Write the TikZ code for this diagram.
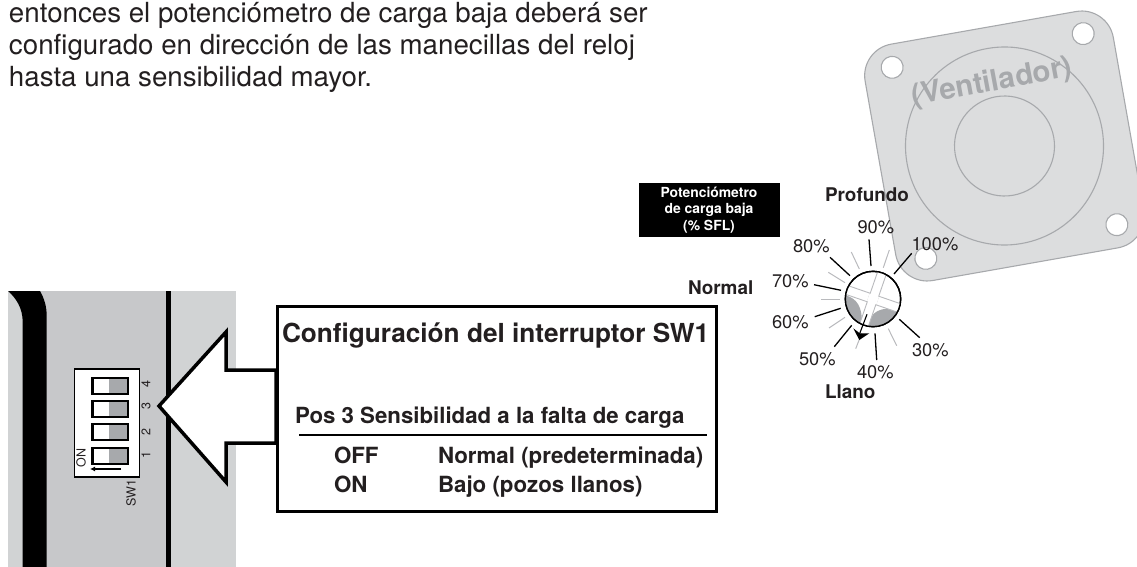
\documentclass[tikz,border=0pt]{standalone}
\usepackage{fontspec}
\usetikzlibrary{arrows.meta}
\setmainfont{TeX Gyre Heros}
\definecolor{panelL}{HTML}{D1D3D4}
\definecolor{panelD}{HTML}{C7C8CA}
\definecolor{plate}{HTML}{DCDDDE}
\definecolor{gr}{HTML}{A7A9AC}
\definecolor{ink}{HTML}{231F20}
\tikzset{
  txt/.style={anchor=base west,inner sep=0pt,outer sep=0pt,text=ink},
  body/.style={txt,font=\fontsize{27.7}{30}\selectfont},
  pct/.style={txt,font=\fontsize{18.3}{20}\selectfont},
  lab/.style={txt,font=\bfseries\fontsize{18.9}{20}\selectfont},
  tbl/.style={txt,font=\bfseries\fontsize{22.3}{24}\selectfont},
  tick/.style={draw=black,line width=1.3pt},
  soft/.style={draw=gr!80,line width=1pt},
  hole/.style={draw=gr,fill=white,line width=1.1pt},
  plateline/.style={draw=gr,line width=1.1pt},
  sw/.style={draw=black,line width=2.1pt},
  vtxt/.style={anchor=center,rotate=90,inner sep=0pt,text=ink,font=\fontsize{12.5}{13}\selectfont},
  wlab/.style={anchor=base,inner sep=0pt,text=white,font=\bfseries\fontsize{13.9}{14}\selectfont}
}
\begin{document}
\begin{tikzpicture}[x=1pt,y=-1pt,line join=miter]
\useasboundingbox (0,0) rectangle (1137,567);
\clip (0,0) rectangle (1137,567);
% body text
\node[body] (t1) at (9,23) {entonces el potenciómetro de carga baja deberá ser};
\node[body] (t2) at (9,55) {configurado en dirección de las manecillas del reloj};
\node[body] (t3) at (9,87) {hasta una sensibilidad mayor.};
% ventilator plate
\begin{scope}[shift={(1004.5,146)},rotate=10]
  \draw[plateline,fill=plate,rounded corners=32pt] (0,-120) -- (126,-120) -- (126,120) -- (-126,120) -- (-126,-120) -- cycle;
  \draw[plateline] (0,0) circle (99);
  \draw[plateline] (0,0) circle (50);
  \draw[hole] (-97,-97) circle (11);
  \draw[hole] (97,-97) circle (11);
  \draw[hole] (97,97) circle (11);
  \draw[hole] (-97,97) circle (11);
\end{scope}
\node[anchor=center,rotate=10.5,inner sep=0pt,text=gr,font=\bfseries\fontsize{29.5}{30}\selectfont] (vent) at (992,83) {(Ventilador)};
% panel
\fill[panelL] (8,291) rectangle (236,567);
\fill[panelD] (40,291) rectangle (166,567);
\fill[black] (8,291) .. controls (16,298) and (22.7,308) .. (22.7,322) -- (22.7,567) -- (46.7,567) -- (46.7,316) .. controls (46.7,306) and (44,298) .. (40,291) -- cycle;
\fill[black] (166,291) rectangle (171,567);
% DIP
\node[draw=black,fill=white,line width=1.6pt,minimum width=65pt,minimum height=108pt,inner sep=0pt,anchor=north west] (dip) at (73.5,368) {};
\foreach \y in {378,401,424,448}{
  \fill[gr] (109,\y) rectangle (128,\y+16);
  \draw[sw] (92.5,\y) rectangle (128,\y+16);
}
\node[vtxt] (n4) at (146,384) {4};
\node[vtxt] (n3) at (146,406) {3};
\node[vtxt] (n2) at (146,432) {2};
\node[vtxt] (n1) at (146,455) {1};
\node[vtxt] (on) at (81,458) {ON};
\node[vtxt] (swl) at (131,493) {SW1};
\coordinate (arrS) at (121,469);
\coordinate (arrE) at (90,469);
\draw[black,line width=1.5pt,-{Latex[length=5pt,width=5pt]}] (arrS) -- (arrE);
% big arrow
\draw[fill=white,draw=black,line width=3.5pt] (159,406) -- (226,332) -- (226,370) -- (276,370) -- (276,443) -- (226,443) -- (226,482) -- cycle;
% box
\node[draw=black,fill=white,line width=3pt,minimum width=439pt,minimum height=205pt,inner sep=0pt,anchor=north west] (box) at (276,305) {};
\node[txt,font=\bfseries\fontsize{26.2}{28}\selectfont] (title) at (282,342) {Configuración del interruptor SW1};
\node[txt,font=\bfseries\fontsize{22.25}{24}\selectfont] (pos) at (295,423) {Pos 3 Sensibilidad a la falta de carga};
\coordinate (ruleL) at (299,435);
\coordinate (ruleR) at (707,435);
\draw[black,line width=2.6pt] (ruleL) -- (ruleR);
\node[tbl] (off) at (334,463) {OFF};
\node[tbl] (onb) at (334,492) {ON};
\node[tbl] (nor) at (438,463) {Normal (predeterminada)};
\node[tbl] (baj) at (438,492) {Bajo (pozos llanos)};
% black label
\fill[black] (639,183) rectangle (780,237);
\node[wlab] (w1) at (709,197) {Potenciómetro};
\node[wlab] (w2) at (709,213.5) {de carga baja};
\node[wlab] (w3) at (709,230.5) {(\% SFL)};
% dial labels
\node[lab] (prof) at (825,201) {Profundo};
\node[lab] (llano) at (825,398) {Llano};
\node[lab] (normal) at (688,294) {Normal};
\node[pct] (p90) at (857.5,233) {90\%};
\node[pct] (p100) at (911.5,250) {100\%};
\node[pct] (p80) at (793,252) {80\%};
\node[pct] (p70) at (772,287) {70\%};
\node[pct] (p60) at (772,328) {60\%};
\node[pct] (p50) at (799,365) {50\%};
\node[pct] (p40) at (857,378) {40\%};
\node[pct] (p30) at (912,356) {30\%};
% ticks
\draw[tick] (869,239.3)--(871,266);
\draw[tick] (911.7,253.3)--(894,274);
\draw[tick] (830,257.3)--(850,275.7);
\draw[tick] (814,284.7)--(841,290.3);
\draw[tick] (814.7,316.7)--(840.7,308.3);
\draw[tick] (834.3,346.7)--(851.7,325.3);
\draw[tick] (876.7,360)--(875,333.3);
\draw[tick] (919.7,337.7)--(899.3,319.3);
\draw[soft] (851.3,252)--(859.3,269);
\draw[soft] (889.3,250)--(883.3,267.7);
\draw[soft] (828.3,272.3)--(845,282.7);
\draw[soft] (821,299)--(840,299);
\draw[soft] (829,328)--(845,317.3);
\draw[soft] (855.7,348.7)--(861.7,333.3);
\draw[soft] (896.7,345.7)--(888.3,328.7);
% dial
\node[circle,draw=black,fill=white,line width=1.4pt,minimum size=55.4pt,inner sep=0pt] (dial) at (873,299) {};
\begin{scope}
  \clip (873,299) circle (27.7);
  \begin{scope}[shift={(873,299)}]
    \fill[gr] (-29,-4) .. controls (-15,-1) and (-11,9) .. (-11,24) -- (-29,24) -- cycle;
    \fill[gr] (-5,28) .. controls (-3,12) and (8,7) .. (27,11) -- (27,30) -- (-5,30) -- cycle;
    \begin{scope}[rotate=-19]
      \draw[soft,fill=white,line width=.9pt] (-32,-4.5) rectangle (32,4.5);
      \draw[soft,fill=white,line width=.9pt] (-4.5,-32) rectangle (4.5,32);
      \fill[white] (-5,-4) rectangle (5,4);
    \end{scope}
  \end{scope}
\end{scope}
\draw[black,line width=1.4pt] (873,299) circle (27.7);
\coordinate (ptrS) at (867,314.3);
\coordinate (ptrE) at (859.5,334);
\draw[black,line width=1.1pt] (ptrS) -- (ptrE);
\fill[black] (853.3,328.3) -- (860,333.5) -- (869.3,333.3) -- (859.3,340) -- cycle;
\end{tikzpicture}
\end{document}
